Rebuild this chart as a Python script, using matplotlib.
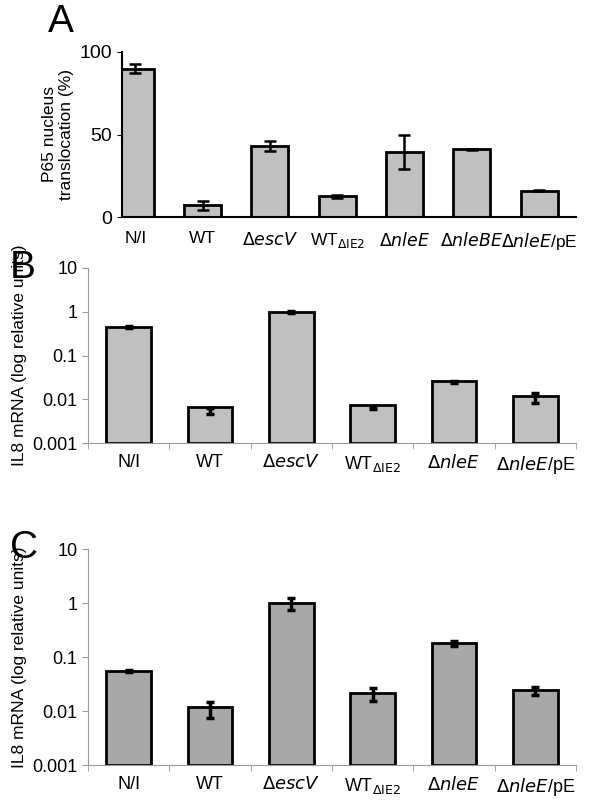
import matplotlib.pyplot as plt
import numpy as np

labels_a = ['N/I', 'WT', r'$\Delta$$\it{escV}$', r'WT$_{\Delta \mathrm{IE2}}$', r'$\Delta$$\it{nleE}$', r'$\Delta$$\it{nleBE}$', r'$\Delta$$\it{nleE}$/pE']
vals_a = [90, 7, 43, 12.5, 39.5, 41, 16]
err_a = [3, 2.5, 3, 1, 10.5, 0.5, 0.5]

labels_bc = ['N/I', 'WT', r'$\Delta$$\it{escV}$', r'WT$_{\Delta \mathrm{IE2}}$', r'$\Delta$$\it{nleE}$', r'$\Delta$$\it{nleE}$/pE']
vals_b = [0.45, 0.0055, 1.0, 0.0065, 0.025, 0.011]
err_b = [0.03, 0.0008, 0.05, 0.0005, 0.001, 0.003]
vals_c = [0.055, 0.011, 1.0, 0.021, 0.18, 0.024]
err_c = [0.002, 0.0035, 0.25, 0.006, 0.02, 0.004]

plt.rcParams['font.family'] = 'Liberation Sans'
fig = plt.figure(figsize=(5.94, 8.0), dpi=100)

# panel A
ax = fig.add_axes([122/594, 1-217/800, 454/594, 165/800])
x = np.arange(len(vals_a))
ax.bar(x, vals_a, width=0.55, color='#c0c0c0', edgecolor='black', linewidth=2)
ax.errorbar(x, vals_a, yerr=err_a, fmt='none', ecolor='black', elinewidth=1.8, capsize=4, capthick=1.8)
ax.set_xlim(-0.2, len(vals_a) - 0.45)
ax.set_ylim(0, 100)
ax.set_yticks([0, 50, 100])
ax.set_xticks(x)
ax.set_xticklabels(labels_a, fontsize=12.5)
ax.tick_params(axis='y', labelsize=14)
ax.tick_params(axis='x', length=0, pad=10)
for s in ['top', 'right']:
    ax.spines[s].set_visible(False)
ax.spines['left'].set_linewidth(1.5)
ax.spines['bottom'].set_linewidth(1.5)
ax.set_ylabel('P65 nucleus\ntranslocation (%)', fontsize=12.5)
fig.text(48/594, 1-22/800, 'A', fontsize=28, va='center')

def log_panel(rect, vals, errs, color, letter, ly):
    ax = fig.add_axes(rect)
    x = np.arange(len(vals))
    ax.bar(x, vals, width=0.55, color=color, edgecolor='black', linewidth=2, bottom=0.001)
    ax.errorbar(x, vals, yerr=errs, fmt='none', ecolor='black', elinewidth=2.5, capsize=3, capthick=2.5)
    ax.set_yscale('log')
    ax.set_ylim(0.001, 10)
    ax.set_yticks([0.001, 0.01, 0.1, 1, 10])
    ax.set_yticklabels(['0.001', '0.01', '0.1', '1', '10'])
    ax.minorticks_off()
    ax.set_xlim(-0.5, len(vals) - 0.5)
    ax.set_xticks(x)
    ax.set_xticklabels(labels_bc, fontsize=13)
    ax.set_xticks(np.arange(len(vals) + 1) - 0.5, minor=True)
    ax.tick_params(axis='x', which='major', length=0, pad=8)
    ax.tick_params(axis='x', which='minor', length=4, color='#999999')
    ax.tick_params(axis='y', labelsize=13, length=4, color='#999999')
    for s in ['top', 'right']:
        ax.spines[s].set_visible(False)
    ax.spines['left'].set_color('#999999')
    ax.spines['bottom'].set_color('#999999')
    ax.set_ylabel('IL8 mRNA (log relative units)', fontsize=12.5)
    fig.text(10/594, ly, letter, fontsize=28, va='center')

log_panel([88/594, 1-443/800, 488/594, 175/800], vals_b, err_b, '#c0c0c0', 'B', 1-268/800)
log_panel([88/594, 1-765/800, 488/594, 216/800], vals_c, err_c, '#a8a8a8', 'C', 1-548/800)

fig.savefig('out.png', dpi=100)
